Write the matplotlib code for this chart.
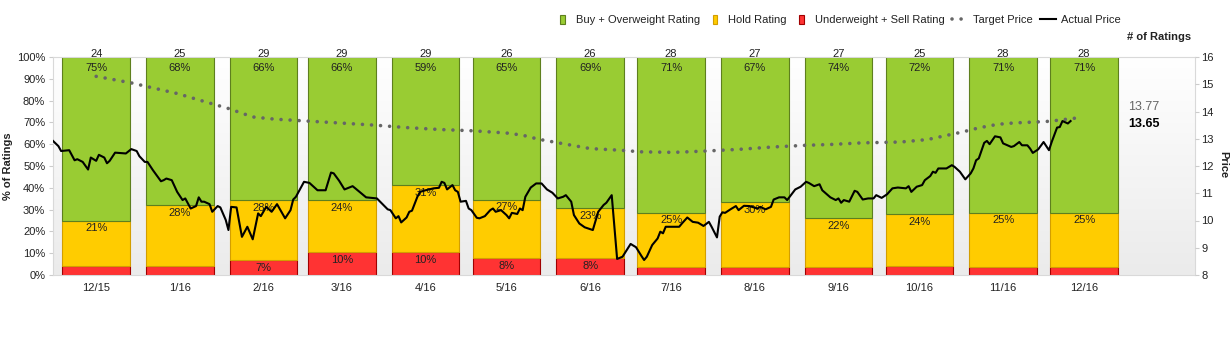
import numpy as np
import pandas as pd
import matplotlib
matplotlib.use('Agg')
import matplotlib.pyplot as plt
from matplotlib.patches import Rectangle
from matplotlib.lines import Line2D
from matplotlib.legend_handler import HandlerPatch
from matplotlib.colors import LinearSegmentedColormap
from matplotlib.ticker import FuncFormatter

plt.rcParams['font.family'] = ['Liberation Sans', 'DejaVu Sans']

# ---------------- data ----------------
months = ['12/15', '1/16', '2/16', '3/16', '4/16', '5/16', '6/16',
          '7/16', '8/16', '9/16', '10/16', '11/16', '12/16']
buy_counts = [18, 17, 19, 19, 17, 17, 18, 20, 18, 20, 18, 20, 20]
hold_counts = [5, 7, 8, 7, 9, 7, 6, 7, 8, 6, 6, 7, 7]
sell_counts = [1, 1, 2, 3, 3, 2, 2, 1, 1, 1, 1, 1, 1]

# days relative to 2015-12-15
actual_day = [-16, -14, -13, -10, -8, -7, -5, -3, -2, 0, 1, 3, 4, 5, 7, 11, 13, 15, 16, 18,
              19, 21, 24, 25, 26, 28, 30, 32, 33, 35, 37, 38, 39, 40, 42, 43, 45, 46, 48, 49,
              50, 52, 54, 56, 58, 60, 61, 63, 65, 67, 70, 72, 73, 74, 77, 79, 82, 85, 87, 88,
              90, 92, 95, 96, 100, 104, 108, 109, 111, 112, 113, 115, 116, 117, 119, 120, 122,
              125, 127, 128, 129, 130, 132, 133, 134, 135, 137, 138, 139, 141, 142, 144, 146,
              147, 148, 150, 152, 153, 154, 156, 157, 158, 159, 161, 163, 165, 167, 169, 171,
              173, 174, 176, 177, 179, 181, 184, 186, 188, 189, 191, 192, 193, 195, 197, 198,
              200, 202, 203, 204, 206, 208, 209, 210, 211, 216, 217, 219, 221, 223, 225, 227,
              228, 230, 231, 232, 233, 235, 237, 238, 240, 242, 245, 246, 248, 250, 251, 253,
              255, 256, 259, 261, 263, 264, 266, 268, 269, 272, 274, 275, 276, 277, 279, 281,
              282, 284, 286, 288, 289, 291, 293, 295, 297, 300, 301, 302, 304, 306, 307, 309,
              310, 311, 312, 315, 317, 318, 320, 322, 324, 325, 326, 327, 329, 330, 331, 333,
              335, 336, 339, 340, 342, 343, 345, 346, 347, 349, 351, 353, 354, 356, 357, 358,
              360, 361]
actual_price = [12.92, 12.73, 12.55, 12.58, 12.21, 12.25, 12.15, 11.87, 12.31, 12.19, 12.41,
                12.31, 12.10, 12.19, 12.49, 12.46, 12.62, 12.55, 12.36, 12.15, 12.15, 11.85,
                11.44, 11.48, 11.54, 11.48, 11.05, 10.75, 10.81, 10.44, 10.53, 10.85, 10.69,
                10.69, 10.60, 10.32, 10.53, 10.48, 10.02, 9.65, 10.50, 10.48, 9.40, 9.77, 9.31,
                10.26, 10.16, 10.50, 10.32, 10.60, 10.08, 10.38, 10.77, 10.87, 11.42, 11.38,
                11.11, 11.11, 11.76, 11.73, 11.46, 11.14, 11.26, 11.18, 10.85, 10.81, 10.41,
                10.38, 10.08, 10.16, 9.93, 10.11, 10.32, 10.36, 10.87, 11.05, 11.11, 11.18,
                11.20, 11.42, 11.38, 11.14, 11.30, 11.11, 11.05, 10.69, 10.72, 10.44, 10.38,
                10.10, 10.08, 10.16, 10.38, 10.44, 10.32, 10.38, 10.20, 10.08, 10.28, 10.24,
                10.44, 10.38, 10.87, 11.21, 11.36, 11.36, 11.14, 11.02, 10.81, 10.87, 10.93,
                10.69, 10.20, 9.89, 9.75, 9.65, 10.32, 10.57, 10.65, 10.93, 9.77, 8.59, 8.67,
                8.98, 9.14, 9.02, 8.70, 8.55, 8.67, 9.10, 9.34, 9.59, 9.53, 9.77, 9.77, 9.89,
                10.11, 9.95, 9.92, 9.80, 9.95, 9.77, 9.38, 10.14, 10.30, 10.28, 10.41, 10.53,
                10.38, 10.54, 10.53, 10.44, 10.50, 10.41, 10.50, 10.77, 10.85, 10.85, 10.75,
                11.14, 11.24, 11.42, 11.38, 11.26, 11.33, 11.11, 10.85, 10.75, 10.81, 10.65,
                10.75, 10.69, 11.09, 11.05, 10.77, 10.81, 10.81, 10.93, 10.83, 10.96, 11.18,
                11.21, 11.18, 11.26, 11.05, 11.24, 11.30, 11.48, 11.63, 11.79, 11.75, 11.91,
                11.91, 12.03, 11.97, 11.79, 11.51, 11.73, 11.91, 12.21, 12.28, 12.85, 12.92,
                12.80, 13.09, 13.05, 12.83, 12.70, 12.73, 12.88, 12.76, 12.76, 12.64, 12.48,
                12.61, 12.88, 12.58, 12.88, 13.41, 13.43, 13.65, 13.56, 13.65]

target_day = [0, 13, 30, 42, 49, 58, 66, 78, 90, 103, 115, 127, 140, 152, 158, 164, 174, 183,
              194, 202, 214, 226, 238, 251, 263, 272, 284, 298, 308, 314, 321, 327, 334, 340,
              347, 353, 364]
target_price = [15.29, 15.05, 14.66, 14.31, 14.11, 13.80, 13.72, 13.65, 13.58, 13.50, 13.41,
                13.34, 13.29, 13.21, 13.13, 12.98, 12.80, 12.64, 12.58, 12.52, 12.50, 12.55,
                12.61, 12.70, 12.76, 12.79, 12.85, 12.88, 12.97, 13.10, 13.25, 13.40, 13.53,
                13.58, 13.61, 13.64, 13.77]

last_target = 13.77
last_actual = 13.65

# ---------------- derived ----------------
base = pd.Timestamp('2015-12-15')
bar_dates = pd.date_range('2015-12-01', periods=len(months), freq='MS') + pd.Timedelta(days=14)
bar_x = np.array((bar_dates - base).days, dtype=float)

buy = np.array(buy_counts, float)
hold = np.array(hold_counts, float)
sell = np.array(sell_counts, float)
total = buy + hold + sell
buy_pct = 100 * buy / total
hold_pct = 100 * hold / total
sell_pct = 100 * sell / total

GREEN, GREEN_E = '#99CC33', '#5E7F1E'
YELLOW, YELLOW_E = '#FFCC00', '#D39E00'
RED, RED_E = '#FF3333', '#A00000'
TXT = '#222222'

W, H = 1231, 338
fig = plt.figure(figsize=(W / 100, H / 100), dpi=100)
fig.patch.set_facecolor('white')
ax = fig.add_axes([53 / W, 1 - 275 / H, (1195 - 53) / W, (275 - 57) / H])

# background gradient
cmap = LinearSegmentedColormap.from_list('bg', ['#ebebeb', '#ffffff'])
grad = np.linspace(1, 0, 256).reshape(-1, 1)
ax.imshow(grad, cmap=cmap, extent=[0, 1, 0, 1], transform=ax.transAxes,
          aspect='auto', zorder=0, interpolation='bicubic')

bw = 25
ax.bar(bar_x, sell_pct, width=bw, color=RED, edgecolor=RED_E, linewidth=0.8, zorder=2)
ax.bar(bar_x, hold_pct, bottom=sell_pct, width=bw, color=YELLOW, edgecolor=YELLOW_E,
       linewidth=0.8, zorder=2)
ax.bar(bar_x, buy_pct, bottom=sell_pct + hold_pct, width=bw, color=GREEN, edgecolor=GREEN_E,
       linewidth=0.8, zorder=2)

for i in range(len(months)):
    ax.annotate(f'{int(total[i])}', (bar_x[i], 100), xytext=(0, 0.3), textcoords='offset points',
                ha='center', va='baseline', fontsize=8, color=TXT, zorder=3,
                annotation_clip=False)
    ax.annotate(f'{round(buy_pct[i])}%', (bar_x[i], 100), xytext=(0, -4),
                textcoords='offset points', ha='center', va='top', fontsize=8, color=TXT, zorder=3)
    ax.annotate(f'{round(hold_pct[i])}%', (bar_x[i], sell_pct[i] + hold_pct[i]), xytext=(0, -2),
                textcoords='offset points', ha='center', va='top', fontsize=8, color=TXT, zorder=3)
    if sell_pct[i] >= 5:
        ax.annotate(f'{round(sell_pct[i])}%', (bar_x[i], sell_pct[i]), xytext=(0, -2),
                    textcoords='offset points', ha='center', va='top', fontsize=8, color=TXT,
                    zorder=3)

ax.set_xlim(-16, 407.1)
ax.set_ylim(0, 100)
ax.set_yticks(range(0, 101, 10))
ax.yaxis.set_major_formatter(FuncFormatter(lambda v, p: f'{int(v)}%'))
ax.set_xticks(bar_x)
ax.set_xticklabels(months)
ax.tick_params(axis='x', length=0, pad=5.8, labelsize=8, labelcolor=TXT)
ax.tick_params(axis='y', length=3, width=0.8, color='#cccccc', pad=2.6, labelsize=8,
               labelcolor=TXT)
for s in ax.spines.values():
    s.set_color('#d9d9d9')
    s.set_linewidth(0.8)

ax2 = ax.twinx()
ax2.plot(target_day, target_price, color='#666666', lw=2.6, linestyle=(0, (0.01, 2.5)),
         dash_capstyle='round', zorder=4)
ax2.plot(actual_day, actual_price, color='black', lw=1.5, zorder=5)
ax2.set_ylim(8, 16)
ax2.set_yticks(range(8, 17))
ax2.tick_params(axis='y', length=3, width=0.8, color='#cccccc', pad=1.5, labelsize=8,
                labelcolor=TXT)
for s in ax2.spines.values():
    s.set_visible(False)
ax2.set_xlim(-16, 407.1)

ax2.annotate(f'{last_target:.2f}', xy=(0.9413, last_target), xycoords=('axes fraction', 'data'),
             xytext=(0, 7.8), textcoords='offset points', ha='left', va='center', fontsize=9,
             color='#666666')
ax2.annotate(f'{last_actual:.2f}', xy=(0.9413, last_actual), xycoords=('axes fraction', 'data'),
             xytext=(0, -1.8), textcoords='offset points', ha='left', va='center', fontsize=9,
             color='black', fontweight='bold')


# legend
def narrow(legend, orig_handle, xdescent, ydescent, width, height, fontsize):
    w = 0.42 * fontsize
    h = 0.8 * fontsize
    return Rectangle((-xdescent + (width - w) / 2, -ydescent + (height - h) / 2), w, h)


handles = [Rectangle((0, 0), 1, 1, facecolor=GREEN, edgecolor=GREEN_E, linewidth=0.8),
           Rectangle((0, 0), 1, 1, facecolor=YELLOW, edgecolor=YELLOW_E, linewidth=0.8),
           Rectangle((0, 0), 1, 1, facecolor=RED, edgecolor=RED_E, linewidth=0.8),
           Line2D([], [], color='#666666', lw=2.6, linestyle=(0, (0.01, 2.5)),
                  dash_capstyle='round'),
           Line2D([], [], color='black', lw=1.5)]
labels = ['Buy + Overweight Rating', 'Hold Rating', 'Underweight + Sell Rating',
          'Target Price', 'Actual Price']
leg = fig.legend(handles, labels, loc='center right', bbox_to_anchor=(1121 / W, 1 - 20 / H),
                 ncol=5, frameon=False, fontsize=8, handlelength=1.5, handletextpad=0.45,
                 columnspacing=0.6, borderpad=0, borderaxespad=0,
                 handler_map={Rectangle: HandlerPatch(patch_func=narrow)})
for t in leg.get_texts():
    t.set_color(TXT)

fig.text(1191 / W, 1 - 37 / H, '# of Ratings', ha='right', va='center', fontsize=8,
         fontweight='bold', color=TXT)
fig.text(8 / W, 1 - 166 / H, '% of Ratings', rotation=90, ha='center', va='center',
         fontsize=8, fontweight='bold', color=TXT)
fig.text(1223 / W, 1 - 165 / H, 'Price', rotation=270, ha='center', va='center',
         fontsize=8, fontweight='bold', color=TXT)

fig.savefig('out.png', dpi=100)
